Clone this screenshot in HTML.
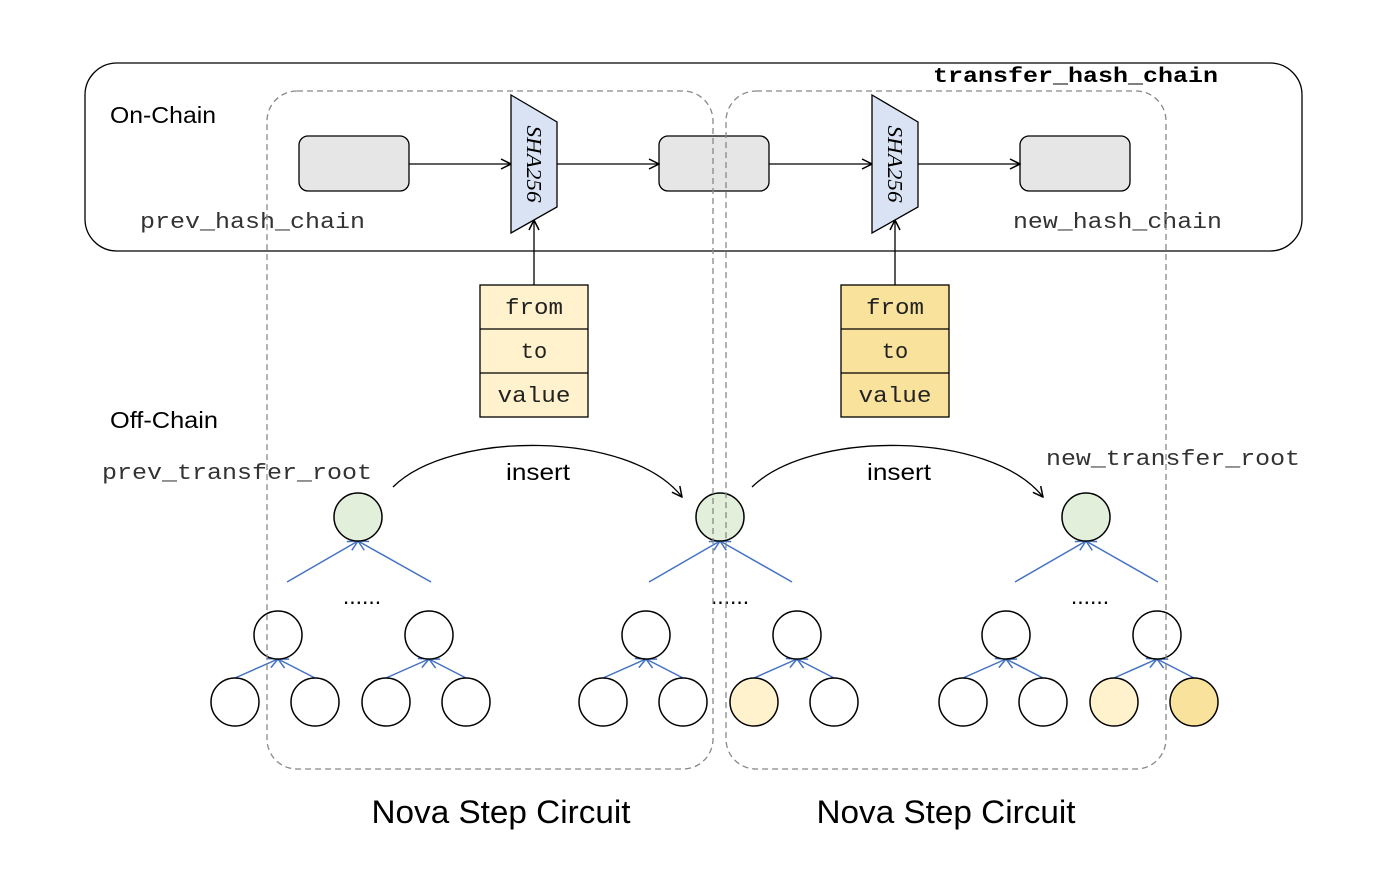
<!DOCTYPE html>
<html><head><meta charset="utf-8"><style>body{margin:0;background:#fff}svg{display:block}</style></head><body>
<svg width="1386" height="884" viewBox="0 0 1386 884" xmlns="http://www.w3.org/2000/svg">
<defs>
<marker id="a" viewBox="0 0 12 12" refX="11" refY="6" markerWidth="12" markerHeight="12" markerUnits="userSpaceOnUse" orient="auto"><path d="M1,1 L11,6 L1,11" fill="none" stroke="#000" stroke-width="1.5"/></marker>
<marker id="b" viewBox="0 0 12 12" refX="11" refY="6" markerWidth="12" markerHeight="12" markerUnits="userSpaceOnUse" orient="auto"><path d="M1,1 L11,6 L1,11" fill="none" stroke="#4472c4" stroke-width="1.5"/></marker>
</defs>
<rect x="85" y="63" width="1217" height="188" rx="32" fill="none" stroke="#000" stroke-width="1.3"/>
<g fill="#e6e6e6" stroke="#000" stroke-width="1.3">
<rect x="299" y="136" width="110" height="55" rx="9"/>
<rect x="659" y="136" width="110" height="55" rx="9"/>
<rect x="1020" y="136" width="110" height="55" rx="9"/>
</g>
<g stroke="#000" stroke-width="1.3" fill="none" marker-end="url(#a)">
<line x1="409" y1="164" x2="511" y2="164"/>
<line x1="557" y1="164" x2="659" y2="164"/>
<line x1="769" y1="164" x2="872" y2="164"/>
<line x1="918" y1="164" x2="1020" y2="164"/>
<line x1="534" y1="285" x2="534" y2="220"/>
<line x1="895" y1="285" x2="895" y2="220"/>
<path d="M393,487 C450,430 630,430 682,497"/>
<path d="M752,487 C810,430 990,430 1043,497"/>
</g>
<g fill="#dae3f3" stroke="#000" stroke-width="1.3">
<polygon points="511,95 557,122 557,207 511,233"/>
<polygon points="872,95 918,122 918,207 872,233"/>
</g>
<g font-family="Liberation Serif, serif" font-style="italic" font-size="21">
<text transform="translate(527,164) rotate(90)" text-anchor="middle" textLength="77" lengthAdjust="spacingAndGlyphs">SHA256</text>
<text transform="translate(888,164) rotate(90)" text-anchor="middle" textLength="77" lengthAdjust="spacingAndGlyphs">SHA256</text>
</g>
<g stroke="#000" stroke-width="1.3">
<rect x="480" y="285" width="108" height="132" fill="#fff2cc"/>
<line x1="480" y1="329" x2="588" y2="329"/><line x1="480" y1="373" x2="588" y2="373"/>
<rect x="841" y="285" width="108" height="132" fill="#f8e29c"/>
<line x1="841" y1="329" x2="949" y2="329"/><line x1="841" y1="373" x2="949" y2="373"/>
</g>
<g font-family="Liberation Mono, monospace" font-size="22" text-anchor="middle" fill="#222">
<text x="534" y="314" textLength="58" lengthAdjust="spacingAndGlyphs">from</text><text x="534" y="358">to</text><text x="534" y="402" textLength="73" lengthAdjust="spacingAndGlyphs">value</text>
<text x="895" y="314" textLength="58" lengthAdjust="spacingAndGlyphs">from</text><text x="895" y="358">to</text><text x="895" y="402" textLength="73" lengthAdjust="spacingAndGlyphs">value</text>
</g>
<g font-family="Liberation Mono, monospace" font-size="22" fill="#333">
<text x="140" y="228" textLength="225" lengthAdjust="spacingAndGlyphs">prev_hash_chain</text>
<text x="1013" y="228" textLength="209" lengthAdjust="spacingAndGlyphs">new_hash_chain</text>
<text x="102" y="479" textLength="270" lengthAdjust="spacingAndGlyphs">prev_transfer_root</text>
<text x="1046" y="465" textLength="254" lengthAdjust="spacingAndGlyphs">new_transfer_root</text>
</g>
<text x="933" y="82" font-family="Liberation Mono, monospace" font-weight="bold" font-size="21" textLength="285" lengthAdjust="spacingAndGlyphs">transfer_hash_chain</text>
<g font-family="Liberation Sans, sans-serif" font-size="23">
<text x="110" y="123" textLength="106" lengthAdjust="spacingAndGlyphs">On-Chain</text>
<text x="110" y="428" textLength="108" lengthAdjust="spacingAndGlyphs">Off-Chain</text>
<text x="538" y="480" text-anchor="middle" textLength="64" lengthAdjust="spacingAndGlyphs">insert</text>
<text x="899" y="480" text-anchor="middle" textLength="64" lengthAdjust="spacingAndGlyphs">insert</text>
<text x="362" y="604" text-anchor="middle">......</text>
<text x="730" y="604" text-anchor="middle">......</text>
<text x="1090" y="604" text-anchor="middle">......</text>
</g>
<g font-family="Liberation Sans, sans-serif" font-size="32" text-anchor="middle">
<text x="501" y="823" textLength="259" lengthAdjust="spacingAndGlyphs">Nova Step Circuit</text>
<text x="946" y="823" textLength="259" lengthAdjust="spacingAndGlyphs">Nova Step Circuit</text>
</g>
<g stroke="#4472c4" stroke-width="1.5" marker-end="url(#b)">
<line x1="287" y1="582" x2="358" y2="541"/><line x1="431" y1="582" x2="358" y2="541"/>
<line x1="649" y1="582" x2="720" y2="541"/><line x1="792" y1="582" x2="720" y2="541"/>
<line x1="1015" y1="582" x2="1086" y2="541"/><line x1="1158" y1="582" x2="1086" y2="541"/>
<line x1="235" y1="678" x2="278" y2="659"/><line x1="315" y1="678" x2="278" y2="659"/>
<line x1="386" y1="678" x2="429" y2="659"/><line x1="466" y1="678" x2="429" y2="659"/>
<line x1="603" y1="678" x2="646" y2="659"/><line x1="683" y1="678" x2="646" y2="659"/>
<line x1="754" y1="678" x2="797" y2="659"/><line x1="834" y1="678" x2="797" y2="659"/>
<line x1="963" y1="678" x2="1006" y2="659"/><line x1="1043" y1="678" x2="1006" y2="659"/>
<line x1="1114" y1="678" x2="1157" y2="659"/><line x1="1194" y1="678" x2="1157" y2="659"/>
</g>
<g stroke="#000" stroke-width="1.5" fill="#fff">
<circle cx="358" cy="517" r="24" fill="#e2efda"/><circle cx="720" cy="517" r="24" fill="#e2efda"/><circle cx="1086" cy="517" r="24" fill="#e2efda"/>
<circle cx="278" cy="635" r="24"/><circle cx="429" cy="635" r="24"/><circle cx="646" cy="635" r="24"/><circle cx="797" cy="635" r="24"/><circle cx="1006" cy="635" r="24"/><circle cx="1157" cy="635" r="24"/>
<circle cx="235" cy="702" r="24"/><circle cx="315" cy="702" r="24"/><circle cx="386" cy="702" r="24"/><circle cx="466" cy="702" r="24"/>
<circle cx="603" cy="702" r="24"/><circle cx="683" cy="702" r="24"/><circle cx="754" cy="702" r="24" fill="#fff2cc"/><circle cx="834" cy="702" r="24"/>
<circle cx="963" cy="702" r="24"/><circle cx="1043" cy="702" r="24"/><circle cx="1114" cy="702" r="24" fill="#fff2cc"/><circle cx="1194" cy="702" r="24" fill="#f8e29c"/>
</g>
<g fill="none" stroke="#888" stroke-width="1.3" stroke-dasharray="6,4">
<rect x="267" y="91" width="446" height="678" rx="30"/>
<rect x="726" y="91" width="440" height="678" rx="30"/>
</g>
</svg>
</body></html>
